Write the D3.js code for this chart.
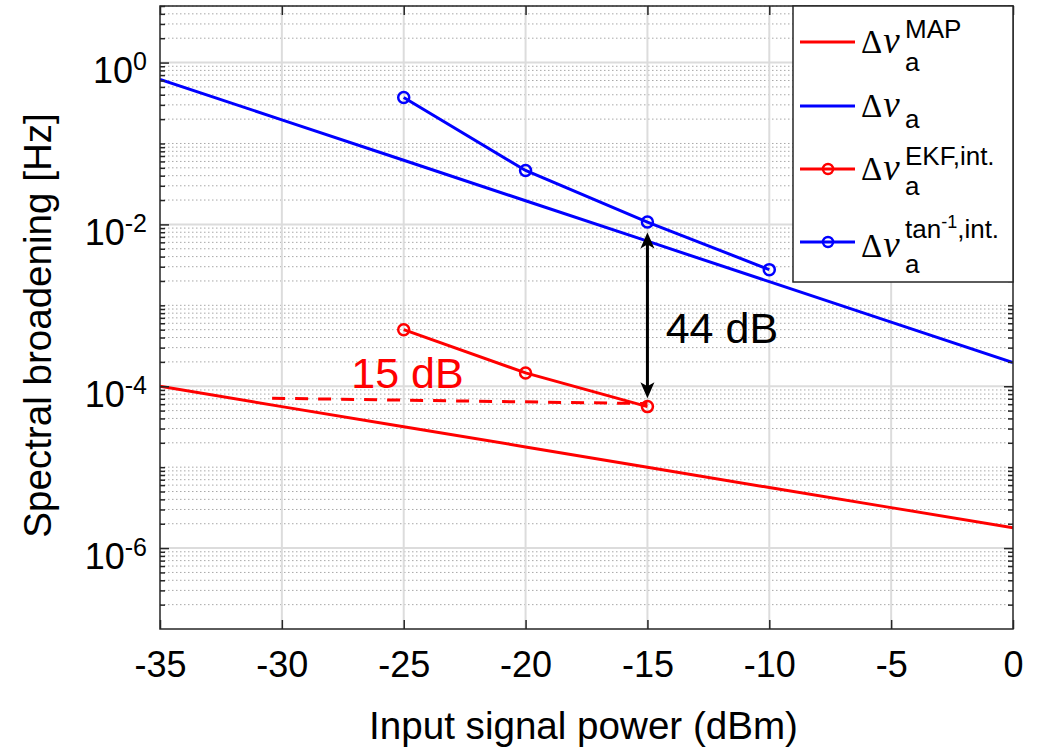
<!DOCTYPE html>
<html>
<head>
<meta charset="utf-8">
<script src="https://cdn.jsdelivr.net/npm/d3@7"></script>
<style>
  body { margin: 0; background: #fff; }
  text { font-family: "Liberation Sans", Arial, Helvetica, sans-serif; }
</style>
</head>
<body>
<svg id="chart" width="1043" height="747"></svg>
<script>
// values
const power = [-35, -30, -25, -20, -15, -10, -5, 0];
const mapBound = [1.0e-4, 5.6e-5, 3.16e-5, 1.78e-5, 1.0e-5, 5.6e-6, 3.16e-6, 1.78e-6];
const nuBound = [0.62, 0.196, 0.062, 0.0196, 0.0062, 0.00196, 6.2e-4, 1.96e-4];
const ekfPower = [-25, -20, -15];
const ekfVals = [5.0e-4, 1.46e-4, 5.6e-5];
const tanPower = [-25, -20, -15, -10];
const tanVals = [0.37, 0.0464, 0.0107, 0.00276];
const xTicks = [-35, -30, -25, -20, -15, -10, -5, 0];
const yTickExp = [0, -2, -4, -6];
const dashPower = [-30.4, -15];
const dashVals = [7.1e-5, 6.1e-5];
const arrowPower = -15;
const arrowVals = [7.96e-3, 7.1e-5];
const notes = [
  {text: "15 dB", x: -27.15, y: 9.4e-5, color: "#ff0000"},
  {text: "44 dB", x: -14.25, y: 3.4e-4, color: "#000000"}
];

const margin = {left: 160, top: 6, right: 30, bottom: 118};
const W = 1043, H = 747;
const iw = W - margin.left - margin.right, ih = H - margin.top - margin.bottom;

const x = d3.scaleLinear().domain([-35, 0]).range([0, iw]);
const y = d3.scaleLog().domain([1e-7, 5]).range([ih, 0]);

const svg = d3.select("#chart");
const g = svg.append("g").attr("transform", `translate(${margin.left},${margin.top})`);

// minor / major y values
const minorY = [];
for (let e = -7; e <= 0; e++) {
  for (let k = 1; k <= 9; k++) {
    const v = k * Math.pow(10, e);
    if (v > 5.0001 || v < 1.5e-7) continue;
    if (k === 1 && yTickExp.includes(e)) continue;
    minorY.push(v);
  }
}
const majorY = yTickExp.map(e => Math.pow(10, e));

// grid
g.append("g").selectAll("line").data(minorY).enter().append("line")
  .attr("x1", 0).attr("x2", iw)
  .attr("y1", d => y(d)).attr("y2", d => y(d))
  .attr("stroke", "#a8a8a8").attr("stroke-width", 1)
  .attr("stroke-dasharray", "1.5,2.5");
g.append("g").selectAll("line").data(majorY).enter().append("line")
  .attr("x1", 0).attr("x2", iw)
  .attr("y1", d => y(d)).attr("y2", d => y(d))
  .attr("stroke", "#dcdcdc").attr("stroke-width", 2);
g.append("g").selectAll("line").data(xTicks.slice(1, -1)).enter().append("line")
  .attr("x1", d => x(d)).attr("x2", d => x(d))
  .attr("y1", 0).attr("y2", ih)
  .attr("stroke", "#dcdcdc").attr("stroke-width", 2);

const line = d3.line().x(d => x(d[0])).y(d => y(d[1]));

g.append("defs").append("clipPath").attr("id", "clip")
  .append("rect").attr("width", iw).attr("height", ih);
const plot = g.append("g").attr("clip-path", "url(#clip)");

plot.append("path").datum(d3.zip(power, mapBound))
  .attr("d", line).attr("fill", "none").attr("stroke", "#ff0000").attr("stroke-width", 3);
plot.append("path").datum(d3.zip(power, nuBound))
  .attr("d", line).attr("fill", "none").attr("stroke", "#0000ff").attr("stroke-width", 3);

// dashed reference
plot.append("path").datum(d3.zip(dashPower, dashVals))
  .attr("d", line).attr("fill", "none").attr("stroke", "#ff0000")
  .attr("stroke-width", 3).attr("stroke-dasharray", "13,10");

function markerSeries(xs, vs, color) {
  const pts = d3.zip(xs, vs);
  plot.append("path").datum(pts)
    .attr("d", line).attr("fill", "none").attr("stroke", color).attr("stroke-width", 3);
  plot.append("g").selectAll("circle").data(pts).enter().append("circle")
    .attr("cx", d => x(d[0])).attr("cy", d => y(d[1])).attr("r", 5.5)
    .attr("fill", "none").attr("stroke", color).attr("stroke-width", 2.5);
}
markerSeries(ekfPower, ekfVals, "#ff0000");
markerSeries(tanPower, tanVals, "#0000ff");

// double arrow
const ax = x(arrowPower), yTop = y(arrowVals[0]), yBot = y(arrowVals[1]);
plot.append("line").attr("x1", ax).attr("x2", ax)
  .attr("y1", yTop + 10).attr("y2", yBot - 10)
  .attr("stroke", "#000").attr("stroke-width", 3);
plot.append("path")
  .attr("d", `M${ax},${yTop} L${ax - 7},${yTop + 16} L${ax},${yTop + 12} L${ax + 7},${yTop + 16} Z`)
  .attr("fill", "#000");
plot.append("path")
  .attr("d", `M${ax},${yBot} L${ax - 7},${yBot - 16} L${ax},${yBot - 12} L${ax + 7},${yBot - 16} Z`)
  .attr("fill", "#000");

g.append("g").selectAll("text").data(notes).enter().append("text")
  .attr("x", d => x(d.x)).attr("y", d => y(d.y))
  .attr("fill", d => d.color).attr("font-size", 43)
  .text(d => d.text);

// axes
const axisColor = "#262626";
function styleAxis(sel) {
  sel.select(".domain").remove();
  sel.selectAll("line").attr("stroke", axisColor).attr("stroke-width", 1.5);
}
g.append("g").attr("transform", `translate(0,${ih})`)
  .call(d3.axisBottom(x).tickValues(xTicks).tickSize(-9).tickFormat(d => d))
  .call(styleAxis)
  .call(s => s.selectAll("text").attr("font-size", 36).attr("fill", "#000")
    .attr("y", 0).attr("dy", 48));
g.append("g")
  .call(d3.axisTop(x).tickValues(xTicks).tickSize(-9).tickFormat(""))
  .call(styleAxis);
g.append("g")
  .call(d3.axisLeft(y).tickValues(minorY).tickSize(-5).tickFormat(""))
  .call(styleAxis);
g.append("g").attr("transform", `translate(${iw},0)`)
  .call(d3.axisRight(y).tickValues(minorY).tickSize(-5).tickFormat(""))
  .call(styleAxis);
g.append("g").attr("transform", `translate(${iw},0)`)
  .call(d3.axisRight(y).tickValues(majorY).tickSize(-9).tickFormat(""))
  .call(styleAxis);
const yAx = g.append("g")
  .call(d3.axisLeft(y).tickValues(majorY).tickSize(-9).tickFormat(""))
  .call(styleAxis);
yAx.selectAll(".tick").each(function(d) {
  const t = d3.select(this).append("text")
    .attr("x", -13).attr("y", 20).attr("text-anchor", "end")
    .attr("fill", "#000").attr("font-size", 36);
  t.append("tspan").text("10");
  const e = Math.round(Math.log10(d));
  t.append("tspan").attr("font-size", 25).attr("dy", -13)
    .text(e === 0 ? "0" : "-" + Math.abs(e));
});

g.append("rect").attr("width", iw).attr("height", ih)
  .attr("fill", "none").attr("stroke", axisColor).attr("stroke-width", 1.5);

// axis labels
svg.append("text").attr("x", margin.left + iw / 2 - 3).attr("y", 739)
  .attr("text-anchor", "middle").attr("font-size", 38.6).text("Input signal power (dBm)");
svg.append("text").attr("transform", `translate(51,${margin.top + ih / 2 + 8}) rotate(-90)`)
  .attr("text-anchor", "middle").attr("font-size", 38.6).text("Spectral broadening [Hz]");

// legend
const legendRows = [
  {color: "#ff0000", marker: false, sup: "MAP", lineY: 42, base: 11, sub: 29},
  {color: "#0000ff", marker: false, sup: null, lineY: 106, base: 11, sub: 22},
  {color: "#ff0000", marker: true, sup: "EKF,int.", lineY: 169, base: 11, sub: 26},
  {color: "#0000ff", marker: true, sup: "tan", lineY: 242, base: 15, sub: 31}
];
const leg = svg.append("g");
leg.append("rect").attr("x", 793).attr("y", margin.top).attr("width", 1013 - 793).attr("height", 282 - margin.top)
  .attr("fill", "#fff").attr("stroke", axisColor).attr("stroke-width", 1.5);
legendRows.forEach(r => {
  leg.append("line").attr("x1", 800).attr("x2", 855).attr("y1", r.lineY).attr("y2", r.lineY)
    .attr("stroke", r.color).attr("stroke-width", 3);
  if (r.marker) {
    leg.append("circle").attr("cx", 828).attr("cy", r.lineY).attr("r", 5)
      .attr("fill", "none").attr("stroke", r.color).attr("stroke-width", 2.5);
  }
  const sym = leg.append("text").attr("x", 861).attr("y", r.lineY + r.base)
    .attr("font-size", 33).attr("fill", "#000")
    .style("font-family", "'Liberation Serif', 'DejaVu Serif', serif");
  sym.append("tspan").text("Δ");
  sym.append("tspan").attr("font-style", "italic").attr("font-size", 37).attr("dx", 1).text("ν");
  leg.append("text").attr("x", 905).attr("y", r.lineY + r.sub)
    .attr("font-size", 26).text("a");
  if (r.sup) {
    const s = leg.append("text").attr("x", 905).attr("y", r.lineY - 4).attr("font-size", 26);
    s.append("tspan").text(r.sup);
    if (r.sup === "tan") {
      s.append("tspan").attr("font-size", 18).attr("dy", -10).text("-1");
      s.append("tspan").attr("dy", 10).text(",int.");
    }
  }
});
</script>
</body>
</html>
